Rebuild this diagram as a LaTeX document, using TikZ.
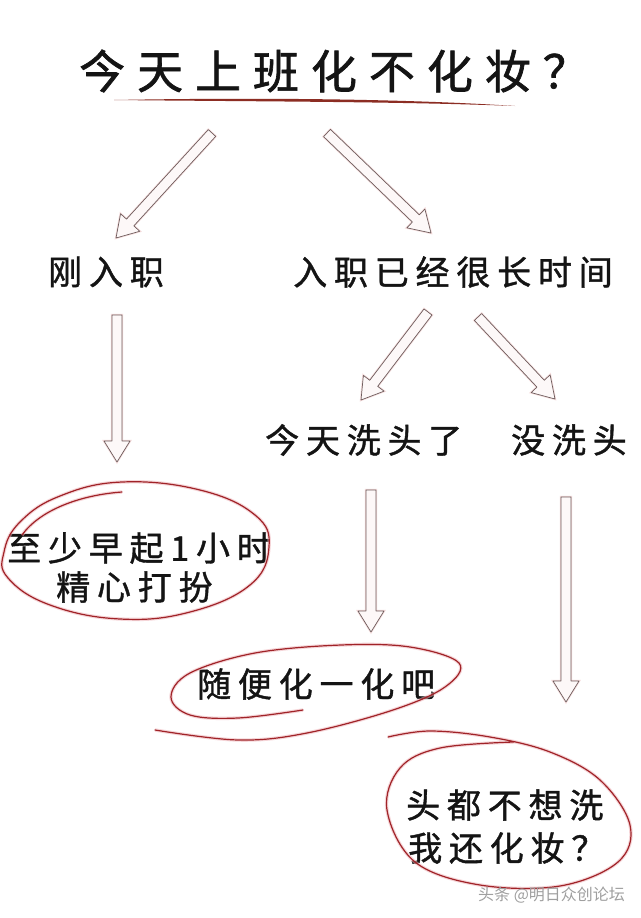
\documentclass[tikz,border=0pt]{standalone}
\usepackage{fontspec}
\usetikzlibrary{calc}
\newfontfamily\titlefont[LetterSpace=26,FakeBold=1.4]{Noto Sans CJK SC}
\newfontfamily\bodyfont[LetterSpace=20,FakeBold=1.2]{Noto Sans CJK SC}
\newfontfamily\plaincjk{Noto Sans CJK SC}
\definecolor{ink}{RGB}{20,20,20}
\definecolor{circ}{RGB}{160,35,40}
\definecolor{circglow}{RGB}{238,180,185}
\definecolor{arrline}{RGB}{110,92,92}
\definecolor{arrglow}{RGB}{240,200,200}
\definecolor{arrfill}{RGB}{253,248,248}
\definecolor{uline}{RGB}{140,45,35}
\tikzset{
  lbl/.style={inner sep=0pt, anchor=west, text=ink, font=\bodyfont\fontsize{34}{40}\selectfont},
  ttl/.style={inner sep=0pt, text=ink, font=\titlefont\fontsize{46}{50}\selectfont},
  harrow/.style={draw=arrline, fill=arrfill, line width=0.7pt, line join=round,
    preaction={draw=arrglow, line width=2.2pt, opacity=0.6}},
  loopline/.style={draw=circ, line width=1.2pt, line cap=round, line join=round,
    preaction={draw=circglow, line width=3.4pt, opacity=0.55}},
}
\newcommand\hollowarrow[2]{%
  \coordinate (ha-c) at ($(#2)!21pt!(#1)$);
  \draw[harrow] ($(#1)!5pt!90:(#2)$) -- ($(ha-c)!5pt!90:(#2)$) -- ($(ha-c)!13pt!90:(#2)$)
    -- (#2) -- ($(ha-c)!13pt!-90:(#2)$) -- ($(ha-c)!5pt!-90:(#2)$) -- ($(#1)!5pt!-90:(#2)$) -- cycle;
}
\begin{document}
\begin{tikzpicture}[x=1pt,y=-1pt]
\path[use as bounding box, fill=white] (0,0) rectangle (640,918);

% title
\node[ttl] (title) at (334,71) {今天上班化不化妆？};
\fill[uline] (114,100) .. controls (250,97.5) and (400,98.5) .. (515,106)
  .. controls (400,101.5) and (250,101.5) .. (114,100) -- cycle;

% labels
\node[lbl] (new) at (48,272) {刚入职};
\node[lbl] (long) at (293,272) {入职已经很长时间};
\node[lbl] (wash) at (265,440) {今天洗头了};
\node[lbl] (nowash) at (511,440) {没洗头};
\node[lbl] (r1a) at (7,548) {至少早起1小时};
\node[lbl] (r1b) at (56,587) {精心打扮};
\node[lbl] (r2) at (197,684) {随便化一化吧};
\node[lbl] (r3a) at (406,805) {头都不想洗};
\node[lbl] (r3b) at (408,848) {我还化妆？};

% arrow ends
\coordinate (a1s) at (212,133); \coordinate (a1e) at (116,238);
\coordinate (a2s) at (327,133); \coordinate (a2e) at (431,233);
\coordinate (a3s) at (117,315); \coordinate (a3e) at (117,462);
\coordinate (a4s) at (428,312); \coordinate (a4e) at (361,400);
\coordinate (a5s) at (478,317); \coordinate (a5e) at (555,399);
\coordinate (a6s) at (371,490); \coordinate (a6e) at (371,632);
\coordinate (a7s) at (566,497); \coordinate (a7e) at (566,702);
\hollowarrow{a1s}{a1e}
\hollowarrow{a2s}{a2e}
\hollowarrow{a3s}{a3e}
\hollowarrow{a4s}{a4e}
\hollowarrow{a5s}{a5e}
\hollowarrow{a6s}{a6e}
\hollowarrow{a7s}{a7e}

% hand-drawn loops
\draw[loopline] plot[smooth cycle, tension=0.7] coordinates {(122,482) (200,490) (255,515) (269,547) (250,585) (190,612) (120,619) (50,605) (8,578) (4,552) (20,522) (60,496)};
\draw[loopline] (122,492) .. controls (80,495) and (40,510) .. (22,535);

\draw[loopline] plot[smooth, tension=0.6] coordinates {(303,710) (238,718) (190,715) (171,697) (190,673) (255,653) (341,645) (410,647) (459,663) (445,687) (393,710) (307,733) (238,740) (155,730)};

\draw[loopline] plot[smooth, tension=0.6] coordinates {(388,737) (430,731) (490,737) (550,752) (600,780) (630,825) (618,862) (560,886) (480,885) (415,862) (387,810) (400,768) (440,748) (514,742)};

% watermark
\node[anchor=west, inner sep=0pt, text=gray!75, font=\plaincjk\fontsize{16}{18}\selectfont] (wm) at (478,895) {头条 @明日众创论坛};
\end{tikzpicture}
\end{document}
